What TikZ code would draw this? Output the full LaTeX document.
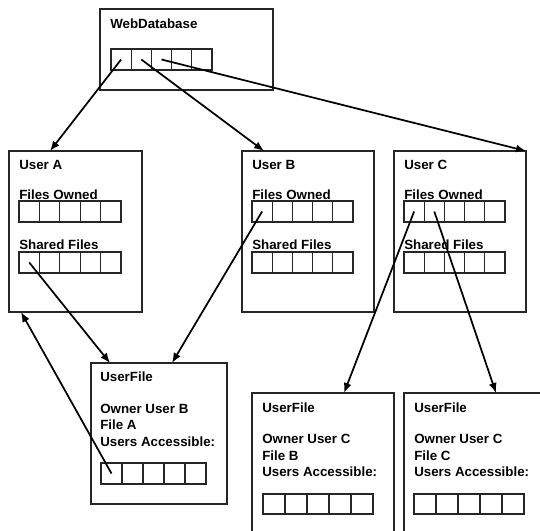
\documentclass[tikz,border=0pt]{standalone}
\usepackage{fontspec}
\setmainfont{Liberation Sans}
\usetikzlibrary{arrows.meta}
\tikzset{
  box/.style={draw=black!85, line width=0.8pt, anchor=north west, inner sep=0pt, outer sep=0pt},
  cellbox/.style={draw=black!85, line width=0.8pt, anchor=north west, inner sep=0pt, outer sep=0pt},
  lbl/.style={anchor=base west, inner sep=0pt, font=\bfseries\fontsize{10}{12}\selectfont},
  arr/.style={-{Latex[length=7.5pt,width=6pt]}, line width=1.3pt, black},
}
\newcommand\mkbox[5]{\node[box, minimum width=#4*0.75pt, minimum height=#5*0.75pt] (#1) at (#2,#3) {};}
\newcommand\cellrow[5]{%
  \foreach \i in {1,...,5}{%
    \node[cellbox, minimum width=#4/5*0.75pt, minimum height=#5*0.75pt] (#1-\i) at ({#2+(\i-1)*#4/5},#3) {};}}
\begin{document}
\begin{tikzpicture}[x=0.75pt,y=-0.75pt]
\useasboundingbox (0,0) rectangle (540,531);
\clip (0,0) rectangle (540,531);
% WebDatabase
\mkbox{wdb}{100}{9}{173}{81}
\node[lbl] (wdbt) at (110,29) {WebDatabase};
\cellrow{wc}{111}{49}{101}{21}
% User A
\mkbox{ua}{9}{151}{133}{161}
\node[lbl] (uat) at (19,170) {User A};
\node[lbl] (uafo) at (19,200) {Files Owned};
\cellrow{uao}{19}{201}{102}{21}
\node[lbl] (uasf) at (19,250) {Shared Files};
\cellrow{uas}{19}{252}{102}{21}
% User B
\mkbox{ub}{242}{151}{132}{161}
\node[lbl] (ubt) at (252,170) {User B};
\node[lbl] (ubfo) at (252,200) {Files Owned};
\cellrow{ubo}{252}{201}{101}{21}
\node[lbl] (ubsf) at (252,250) {Shared Files};
\cellrow{ubs}{252}{252}{101}{21}
% User C
\mkbox{uc}{394}{151}{132}{161}
\node[lbl] (uct) at (404,170) {User C};
\node[lbl] (ucfo) at (404,200) {Files Owned};
\cellrow{uco}{404}{201}{101}{21}
\node[lbl] (ucsf) at (404,250) {Shared Files};
\cellrow{ucs}{404}{252}{101}{21}
% UserFile A
\mkbox{fa}{91}{363}{136}{141}
\node[lbl] (fat) at (100,382) {UserFile};
\node[lbl] (fa1) at (100,414) {Owner User B};
\node[lbl] (fa2) at (100,430) {File A};
\node[lbl] (fa3) at (100,446) {Users Accessible:};
\cellrow{fac}{101}{463}{105}{21}
% UserFile B
\mkbox{fb}{252}{393}{142}{160}
\node[lbl] (fbt) at (262,412) {UserFile};
\node[lbl] (fb1) at (262,444) {Owner User C};
\node[lbl] (fb2) at (262,460) {File B};
\node[lbl] (fb3) at (262,476) {Users Accessible:};
\cellrow{fbc}{263}{494}{110}{20}
% UserFile C
\mkbox{fc}{404}{393}{150}{160}
\node[lbl] (fct) at (414,412) {UserFile};
\node[lbl] (fc1) at (414,444) {Owner User C};
\node[lbl] (fc2) at (414,460) {File C};
\node[lbl] (fc3) at (414,476) {Users Accessible:};
\cellrow{fcc}{414}{494}{110}{20}
% arrow tips
\coordinate (uain) at (50,151);
\coordinate (ubin) at (264,151);
\coordinate (uain2) at (21,312);
\coordinate (fain1) at (110,363);
\coordinate (fain2) at (172,363);
\coordinate (fbin) at (344,393);
\coordinate (fcin) at (496,393);
% arrows
\draw[arr] (wc-1.center) -- (uain);
\draw[arr] (wc-2.center) -- (ubin);
\draw[arr] (wc-3.center) -- (uc.north east);
\draw[arr] (uas-1.center) -- (fain1);
\draw[arr] (ubo-1.center) -- (fain2);
\draw[arr] (fac-1.center) -- (uain2);
\draw[arr] (uco-1.center) -- (fbin);
\draw[arr] (uco-2.center) -- (fcin);
\end{tikzpicture}
\end{document}
